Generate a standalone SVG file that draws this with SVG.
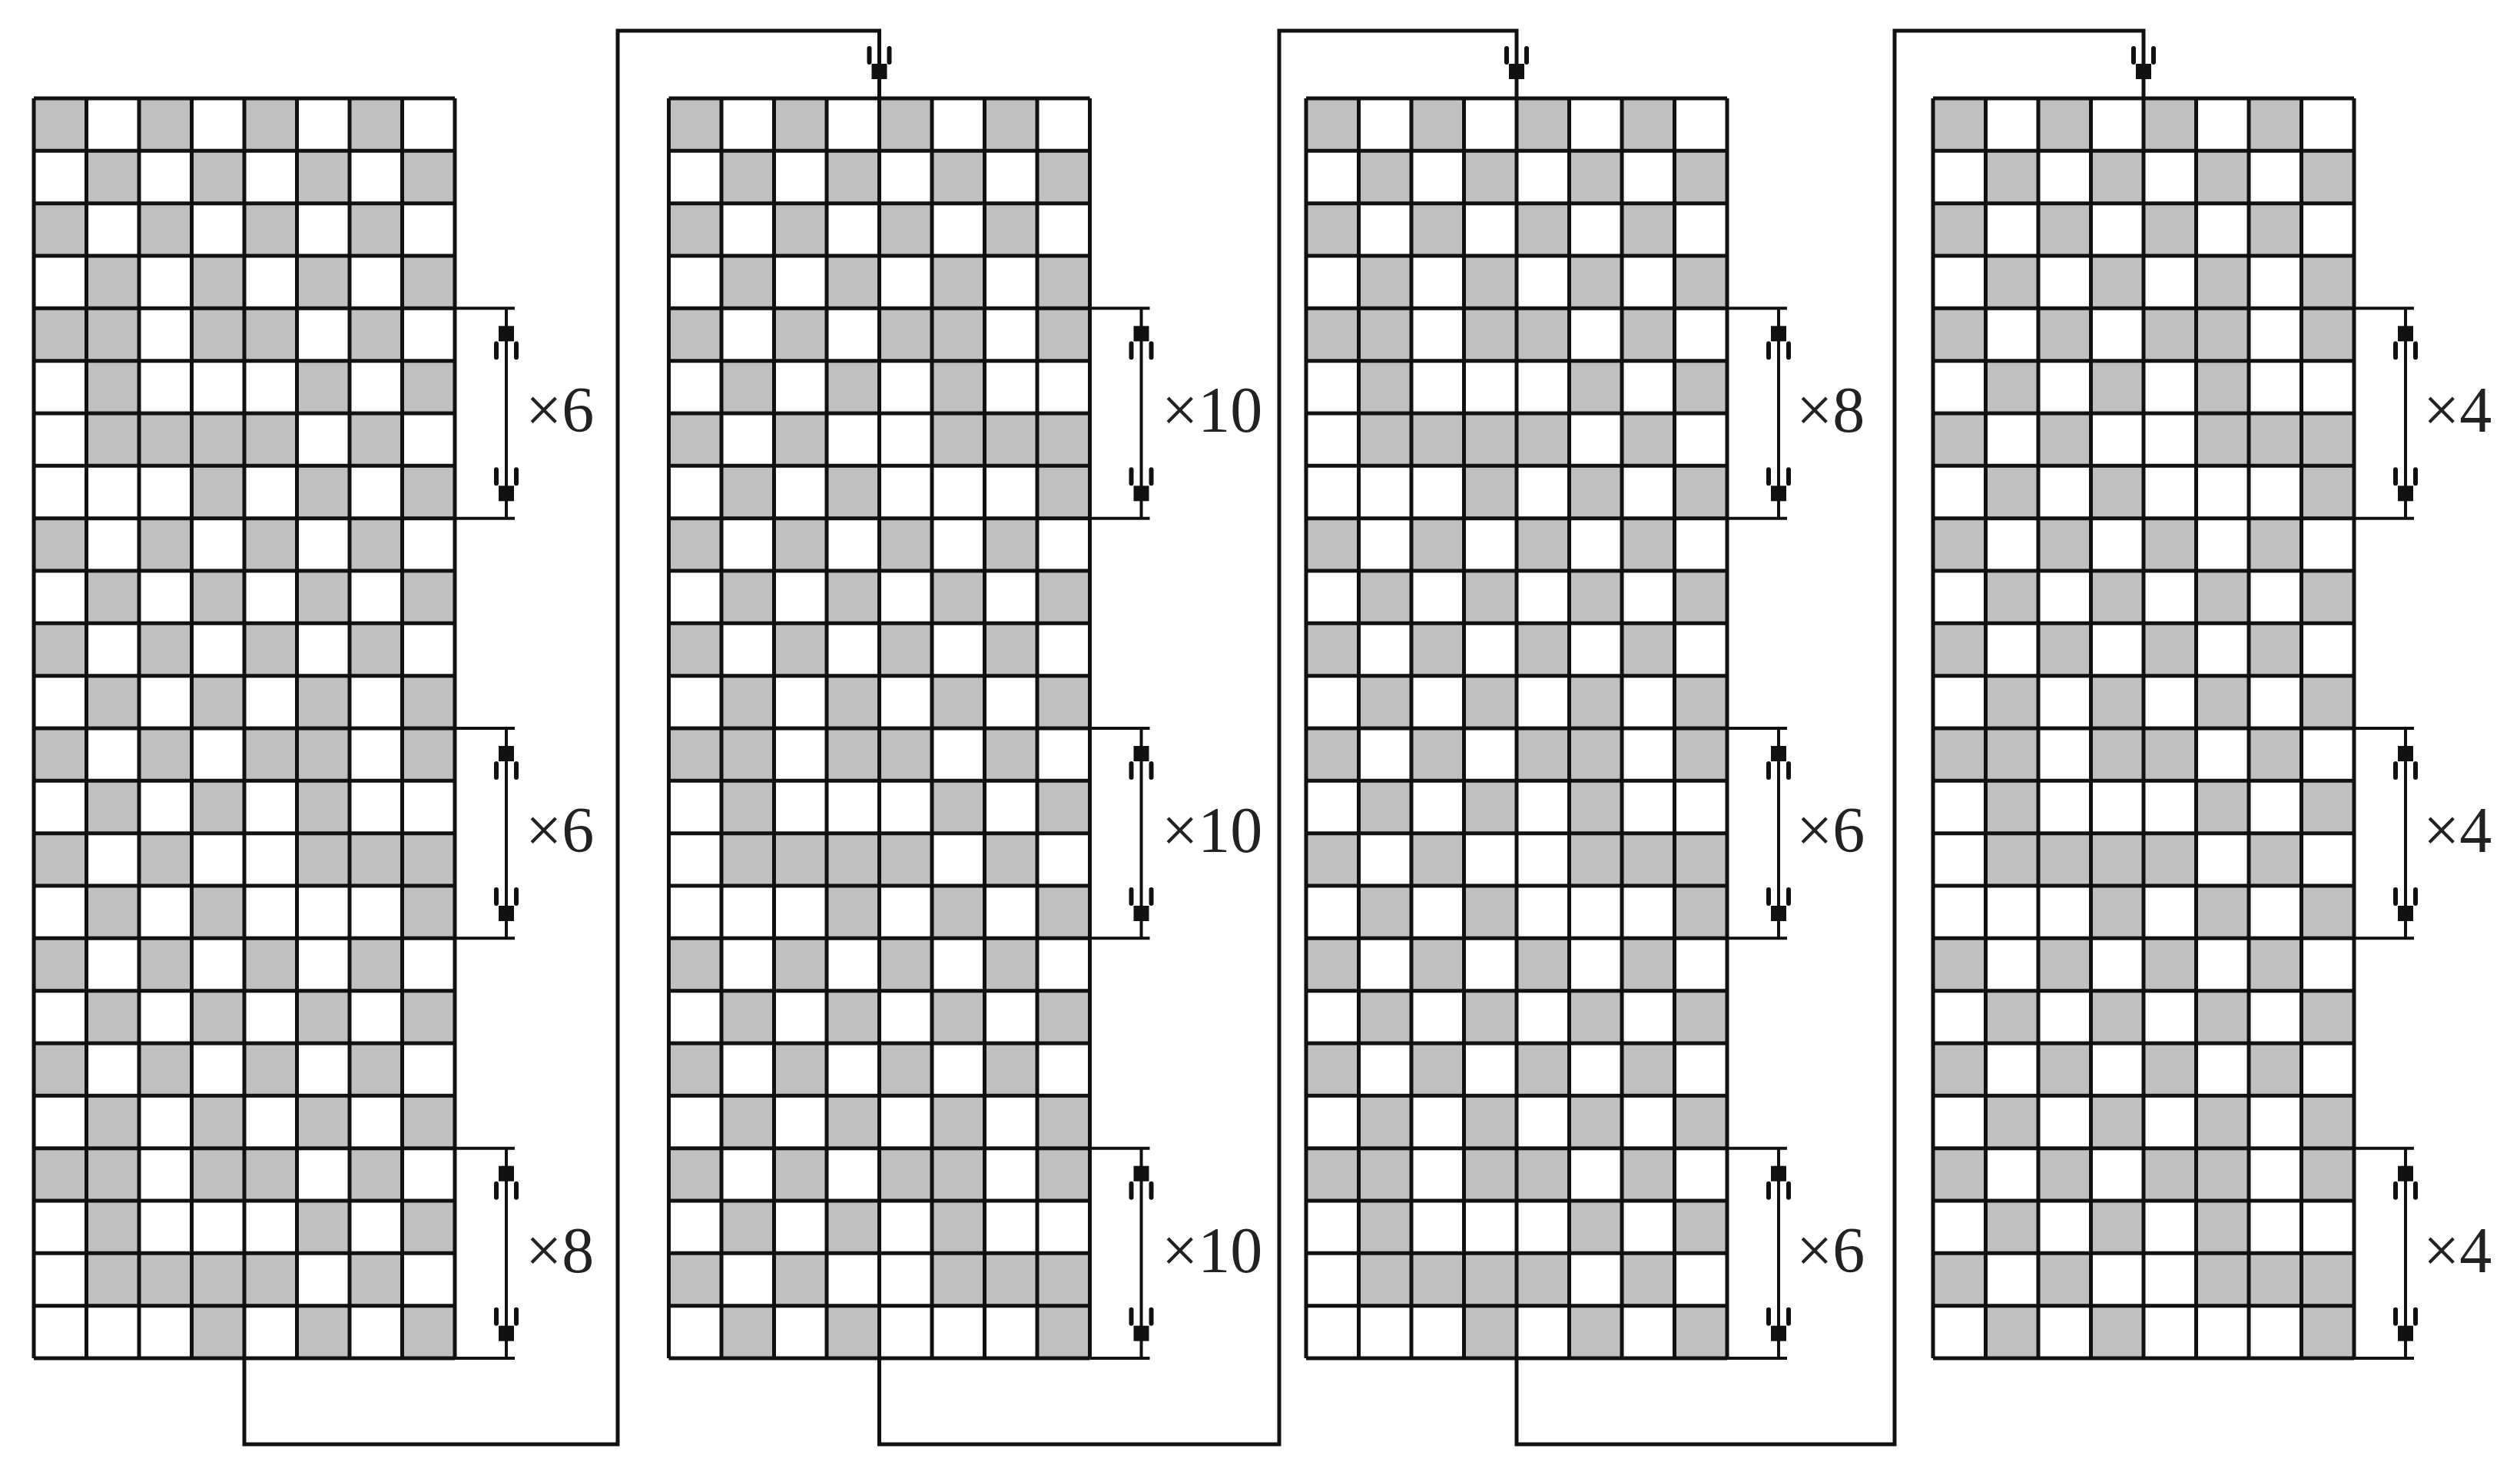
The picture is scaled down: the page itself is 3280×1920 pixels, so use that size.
<svg xmlns="http://www.w3.org/2000/svg" xmlns:xlink="http://www.w3.org/1999/xlink" width="3280" height="1920" viewBox="0 0 3280 1920">
<style>
.g{fill:#c0c0c0}
.ln{fill:none;stroke:#111;stroke-width:5}
.thin{fill:none;stroke:#111;stroke-width:4}
.hk{fill:none;stroke:#111;stroke-width:6;stroke-linecap:round}
.lbl{font-family:"Liberation Serif",serif;font-size:84px;fill:#222}
</style>
<defs>
<g id="rA"><rect class="g" x="0" width="68.5" height="68.33"/><rect class="g" x="137" width="68.5" height="68.33"/><rect class="g" x="274" width="68.5" height="68.33"/><rect class="g" x="411" width="68.5" height="68.33"/></g>
<g id="rB"><rect class="g" x="68.5" width="68.5" height="68.33"/><rect class="g" x="205.5" width="68.5" height="68.33"/><rect class="g" x="342.5" width="68.5" height="68.33"/><rect class="g" x="479.5" width="68.5" height="68.33"/></g>
<g id="rC"><rect class="g" x="0" width="137" height="68.33"/><rect class="g" x="205.5" width="137" height="68.33"/><rect class="g" x="411" width="68.5" height="68.33"/></g>
<g id="rD"><rect class="g" x="68.5" width="68.5" height="68.33"/><rect class="g" x="342.5" width="68.5" height="68.33"/><rect class="g" x="479.5" width="68.5" height="68.33"/></g>
<g id="rE"><rect class="g" x="68.5" width="274" height="68.33"/><rect class="g" x="411" width="68.5" height="68.33"/></g>
<g id="rF"><rect class="g" x="205.5" width="68.5" height="68.33"/><rect class="g" x="342.5" width="68.5" height="68.33"/><rect class="g" x="479.5" width="68.5" height="68.33"/></g>
<g id="rP"><rect class="g" x="0" width="68.5" height="68.33"/><rect class="g" x="137" width="68.5" height="68.33"/><rect class="g" x="274" width="137" height="68.33"/><rect class="g" x="479.5" width="68.5" height="68.33"/></g>
<g id="rQ"><rect class="g" x="68.5" width="68.5" height="68.33"/><rect class="g" x="205.5" width="68.5" height="68.33"/><rect class="g" x="342.5" width="68.5" height="68.33"/></g>
<g id="rR"><rect class="g" x="0" width="68.5" height="68.33"/><rect class="g" x="137" width="68.5" height="68.33"/><rect class="g" x="342.5" width="205.5" height="68.33"/></g>
<g id="rS"><rect class="g" x="68.5" width="68.5" height="68.33"/><rect class="g" x="205.5" width="68.5" height="68.33"/><rect class="g" x="479.5" width="68.5" height="68.33"/></g>
<g id="bAB"><use xlink:href="#rA"/><use xlink:href="#rB" y="68.33"/><use xlink:href="#rA" y="136.67"/><use xlink:href="#rB" y="205"/></g>
<g id="bX1"><use xlink:href="#rC"/><use xlink:href="#rD" y="68.33"/><use xlink:href="#rE" y="136.67"/><use xlink:href="#rF" y="205"/></g>
<g id="bX2"><use xlink:href="#rP"/><use xlink:href="#rQ" y="68.33"/><use xlink:href="#rR" y="136.67"/><use xlink:href="#rS" y="205"/></g>
<path id="lines" class="ln" d="M0,0V1640M68.5,0V1640M137,0V1640M205.5,0V1640M274,0V1640M342.5,0V1640M411,0V1640M479.5,0V1640M548,0V1640M0,0H548M0,68.33H548M0,136.67H548M0,205H548M0,273.33H548M0,341.67H548M0,410H548M0,478.33H548M0,546.67H548M0,615H548M0,683.33H548M0,751.67H548M0,820H548M0,888.33H548M0,956.67H548M0,1025H548M0,1093.33H548M0,1161.67H548M0,1230H548M0,1298.33H548M0,1366.67H548M0,1435H548M0,1503.33H548M0,1571.67H548M0,1640H548"/>
<g id="G1"><rect width="548" height="1640" fill="#fff"/><use xlink:href="#bAB"/><use xlink:href="#bX1" y="273.33"/><use xlink:href="#bAB" y="546.67"/><use xlink:href="#bX2" y="820"/><use xlink:href="#bAB" y="1093.33"/><use xlink:href="#bX1" y="1366.67"/><use xlink:href="#lines"/></g>
<g id="G2"><rect width="548" height="1640" fill="#fff"/><use xlink:href="#bAB"/><use xlink:href="#bX2" y="273.33"/><use xlink:href="#bAB" y="546.67"/><use xlink:href="#bX1" y="820"/><use xlink:href="#bAB" y="1093.33"/><use xlink:href="#bX2" y="1366.67"/><use xlink:href="#lines"/></g>
<g id="br">
<path class="thin" d="M0,0H78M0,273.33H78M67,0V273.33"/>
<path class="hk" d="M54,46v18M80,46v18M54,210v18M80,210v18"/>
<rect x="57" y="23" width="20" height="20" fill="#111"/><rect x="57" y="231" width="20" height="20" fill="#111"/>
</g>
<g id="inarr"><path class="hk" d="M-13,-65v18M13,-65v18"/><rect x="-10" y="-45" width="20" height="20" fill="#111"/></g>
</defs>
<g id="connectors">
<path class="ln" d="M318,1768V1880H804V40H1144.5V128"/>
<path class="ln" d="M1144.5,1768V1880H1665V40H1974V128"/>
<path class="ln" d="M1974,1768V1880H2466V40H2790V128"/>
<use xlink:href="#inarr" x="1144.5" y="128"/>
<use xlink:href="#inarr" x="1974" y="128"/>
<use xlink:href="#inarr" x="2790" y="128"/>
</g>
<g id="grid1"><use xlink:href="#G1" x="44" y="128"/>
<use xlink:href="#br" x="592" y="401.33"/><use xlink:href="#br" x="592" y="948"/><use xlink:href="#br" x="592" y="1494.67"/>
<text class="lbl" x="684" y="562">×6</text><text class="lbl" x="684" y="1109">×6</text><text class="lbl" x="684" y="1656">×8</text></g>
<g id="grid2"><use xlink:href="#G2" x="870.5" y="128"/>
<use xlink:href="#br" x="1418.5" y="401.33"/><use xlink:href="#br" x="1418.5" y="948"/><use xlink:href="#br" x="1418.5" y="1494.67"/>
<text class="lbl" x="1512" y="562">×10</text><text class="lbl" x="1512" y="1109">×10</text><text class="lbl" x="1512" y="1656">×10</text></g>
<g id="grid3"><use xlink:href="#G1" x="1700" y="128"/>
<use xlink:href="#br" x="2248" y="401.33"/><use xlink:href="#br" x="2248" y="948"/><use xlink:href="#br" x="2248" y="1494.67"/>
<text class="lbl" x="2338" y="562">×8</text><text class="lbl" x="2338" y="1109">×6</text><text class="lbl" x="2338" y="1656">×6</text></g>
<g id="grid4"><use xlink:href="#G2" x="2516" y="128"/>
<use xlink:href="#br" x="3064" y="401.33"/><use xlink:href="#br" x="3064" y="948"/><use xlink:href="#br" x="3064" y="1494.67"/>
<text class="lbl" x="3154" y="562">×4</text><text class="lbl" x="3154" y="1109">×4</text><text class="lbl" x="3154" y="1656">×4</text></g>
</svg>
